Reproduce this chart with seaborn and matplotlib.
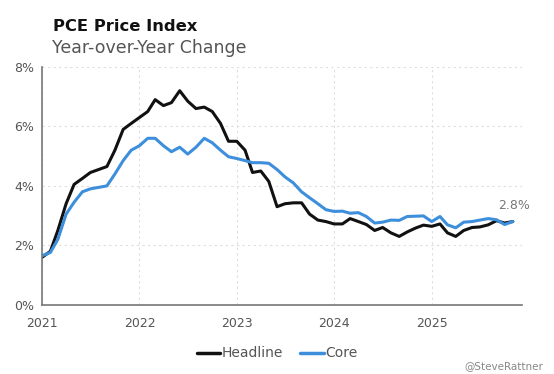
import numpy as np
import pandas as pd
import matplotlib
matplotlib.use('Agg')
import matplotlib.pyplot as plt
import matplotlib.dates as mdates
from matplotlib.lines import Line2D
import seaborn as sns

# ── data: monthly YoY %, Jan 2021 .. Nov 2025 ──
months = pd.date_range('2021-01-01', periods=59, freq='MS')

headline = [1.6, 1.8, 2.5, 3.4, 4.05, 4.25, 4.45, 4.55, 4.65, 5.2, 5.9, 6.1,
            6.3, 6.5, 6.9, 6.7, 6.8, 7.2, 6.85, 6.6, 6.65, 6.5, 6.1, 5.5,
            5.5, 5.2, 4.45, 4.5, 4.15, 3.3, 3.4, 3.43, 3.43, 3.05, 2.85, 2.8,
            2.72, 2.72, 2.9, 2.8, 2.7, 2.5, 2.6, 2.42, 2.3, 2.45, 2.58, 2.68,
            2.64, 2.72, 2.42, 2.3, 2.5, 2.6, 2.62, 2.69, 2.83, 2.75, 2.8]

core = [1.65, 1.76, 2.2, 3.05, 3.45, 3.8, 3.9, 3.95, 4.0, 4.4, 4.85, 5.2,
        5.35, 5.6, 5.6, 5.35, 5.15, 5.3, 5.07, 5.3, 5.6, 5.45, 5.2, 4.98,
        4.92, 4.85, 4.78, 4.78, 4.76, 4.55, 4.3, 4.1, 3.8, 3.6, 3.4, 3.2,
        3.14, 3.15, 3.08, 3.1, 2.97, 2.75, 2.78, 2.85, 2.84, 2.97, 2.98, 2.99,
        2.8, 2.97, 2.69, 2.59, 2.78, 2.8, 2.85, 2.9, 2.86, 2.7, 2.8]

series_names = ['Headline', 'Core']
yticks = [0, 2, 4, 6, 8]

BLACK = '#111111'
BLUE = '#3d8fdc'
GREY = '#555555'

df = pd.DataFrame({
    'date': np.concatenate([months, months]),
    'value': headline + core,
    'series': ['Headline'] * len(headline) + ['Core'] * len(core),
})

sns.set_style('white')
plt.rcParams['font.family'] = ['DejaVu Sans']

fig = plt.figure(figsize=(5.54, 3.74), dpi=100)
ax = fig.add_axes([0.076, 0.185, 0.866, 0.636])

sns.lineplot(data=df, x='date', y='value', hue='series',
             palette={'Headline': BLACK, 'Core': BLUE},
             hue_order=series_names, linewidth=2.2, legend=False, ax=ax)

ax.set_xlim(pd.Timestamp('2021-01-01'), pd.Timestamp('2025-12-05'))
ax.set_ylim(0, 8)

ax.xaxis.set_major_locator(mdates.YearLocator())
ax.xaxis.set_major_formatter(mdates.DateFormatter('%Y'))
ax.xaxis.set_minor_locator(mdates.MonthLocator(bymonth=7))
ax.set_yticks(yticks)
ax.set_yticklabels([f'{v}%' for v in yticks])

ax.tick_params(axis='both', which='major', direction='out', length=3,
               width=1, color='#777777', labelsize=9, labelcolor=GREY, pad=3)
ax.tick_params(axis='x', which='minor', direction='out', length=2,
               width=1, color='#777777')
ax.tick_params(axis='x', pad=6)

ax.grid(True, which='major', linestyle=(0, (2, 3)), color='#dddddd', linewidth=0.8)
ax.set_axisbelow(True)
for s in ['top', 'right']:
    ax.spines[s].set_visible(False)
for s in ['left', 'bottom']:
    ax.spines[s].set_color('#777777')
    ax.spines[s].set_linewidth(1.2)
ax.set_xlabel('')
ax.set_ylabel('')

# end label
ax.annotate(f'{core[-1]:.1f}%', xy=(months[-1], core[-1]), xytext=(1, 11.5),
            textcoords='offset points', ha='center', va='center',
            fontsize=9, color='#777777')

# titles
fig.text(0.096, 0.93, 'PCE Price Index', ha='left', va='center',
         fontsize=11.8, fontweight='bold', color=BLACK)
fig.text(0.094, 0.871, 'Year-over-Year Change', ha='left', va='center',
         fontsize=12.5, color=GREY)

# legend
handles = [Line2D([0], [0], color=BLACK, lw=2.5, label='Headline'),
           Line2D([0], [0], color=BLUE, lw=2.5, label='Core')]
fig.legend(handles=handles, loc='center', bbox_to_anchor=(0.5, 0.055),
           ncol=2, frameon=False, fontsize=10, handlelength=1.7,
           handletextpad=0.1, columnspacing=1.2, labelcolor=GREY)

fig.text(0.98, 0.022, '@SteveRattner', ha='right', va='center',
         fontsize=7.5, color='#888888')

fig.savefig('out.png', dpi=100)
